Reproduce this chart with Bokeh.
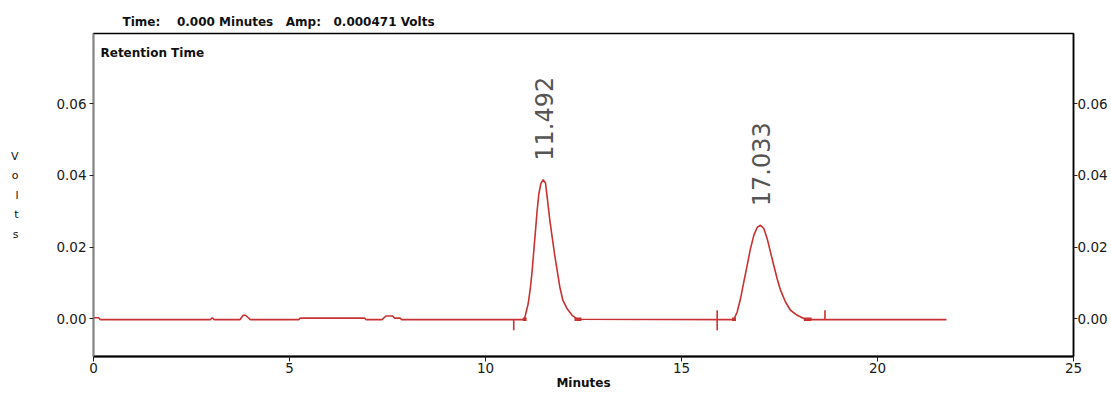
import numpy as np
from bokeh.plotting import figure
from bokeh.models import Range1d, LinearAxis, FixedTicker, PrintfTickFormatter, Label, Title
from bokeh.core.properties import value
from bokeh.embed import file_html
from bokeh.resources import INLINE

# ---------------- data ----------------
trace_t = [0.00, 0.13, 0.17, 2.98, 3.03, 3.08, 3.74, 3.82, 3.88, 4.00, 5.24, 5.27, 6.92, 6.95,
           7.36, 7.46, 7.63, 7.68, 7.82, 7.86, 10.99,
           11.089, 11.148, 11.191, 11.233, 11.276, 11.318, 11.361, 11.412, 11.471, 11.531,
           11.582, 11.641, 11.701, 11.760, 11.828, 11.896, 11.973, 12.083, 12.211, 12.338,
           16.335, 16.420, 16.505, 16.590, 16.675, 16.760, 16.845, 16.930, 17.015, 17.100,
           17.185, 17.270, 17.355, 17.440, 17.526, 17.653, 17.781, 17.951, 18.121, 18.334,
           21.76]
trace_v = [0.0003, 0.0003, -0.0002, -0.0002, 0.0003, -0.0002, -0.0002, 0.0010, 0.0010, -0.0002, -0.0002, 0.0002, 0.0002, -0.0002,
           -0.0002, 0.0008, 0.0008, 0.0002, 0.0002, -0.0002, -0.0002,
           0.0042, 0.0089, 0.0135, 0.0191, 0.0247, 0.0303, 0.0349, 0.0377, 0.0388, 0.0379,
           0.0331, 0.0275, 0.0228, 0.0182, 0.0135, 0.0089, 0.0052, 0.0028, 0.0010, -0.0001,
           -0.0002, 0.0019, 0.0056, 0.0103, 0.0149, 0.0196, 0.0233, 0.0255, 0.0261, 0.0252,
           0.0224, 0.0186, 0.0149, 0.0112, 0.0080, 0.0047, 0.0024, 0.0010, 0.0001, -0.0002,
           -0.0002]

peak_rt = [11.492, 17.033]
peak_height = [0.0388, 0.0261]
peak_labels = ["11.492", "17.033"]

event_t = [10.72, 15.91, 18.66]
event_top = [-0.0002, 0.0024, 0.0024]
event_bottom = [-0.0032, -0.0032, -0.0002]

mark_t0 = [10.95, 12.27, 16.29, 18.12]
mark_t1 = [11.05, 12.45, 16.39, 18.32]
mark_v = [-0.0001, -0.0001, -0.0001, -0.0001]

x_ticks = [0, 5, 10, 15, 20, 25]
y_ticks = [0.00, 0.02, 0.04, 0.06]

NB = "\u00a0"
header_text = "Time:" + NB * 4 + "0.000 Minutes" + NB * 3 + "Amp:" + NB * 3 + "0.000471 Volts"

# ---------------- layout ----------------
X0, X1 = 0, 25
Y0, Y1 = -0.0105, 0.0796
W, H = 1111, 394
FL, FR, FT, FB = 93, 1073, 33, 356

RED = "#c83232"

p = figure(width=W, height=H, output_backend="svg", toolbar_location=None,
           x_range=Range1d(X0, X1), y_range=Range1d(Y0, Y1),
           min_border_left=FL, min_border_right=W - FR,
           min_border_top=FT, min_border_bottom=H - FB)
p.background_fill_color = "white"
p.border_fill_color = "white"
p.outline_line_color = "black"
p.outline_line_width = 1.5
p.xgrid.visible = False
p.ygrid.visible = False

def style_axis(ax, line_color, line_width, standoff):
    ax.axis_line_color = line_color
    ax.axis_line_width = line_width
    ax.major_tick_out = 4
    ax.major_tick_in = 0
    ax.major_tick_line_color = "#222222"
    ax.minor_tick_line_color = None
    ax.major_label_standoff = standoff
    ax.major_label_text_font = "DejaVu Sans"
    ax.major_label_text_font_size = "13.5px"
    ax.major_label_text_color = "#1a1a1a"

xa = p.xaxis[0]
xa.ticker = FixedTicker(ticks=x_ticks)
xa.formatter = PrintfTickFormatter(format="%d")
style_axis(xa, "black", 2, 1)
xa.major_tick_out = 5
xa.axis_label = "Minutes"
xa.axis_label_standoff = 0
xa.axis_label_text_font = "DejaVu Sans"
xa.axis_label_text_font_size = "12px"
xa.axis_label_text_font_style = "bold"
xa.axis_label_text_color = "#111111"

ya = p.yaxis[0]
ya.ticker = FixedTicker(ticks=y_ticks)
ya.formatter = PrintfTickFormatter(format="%.2f")
style_axis(ya, "#888888", 1.5, 3)
ya.axis_label = "\n".join("Volts")
ya.axis_label_orientation = "horizontal"
ya.axis_label_standoff = 35
ya.axis_label_text_font = "DejaVu Sans"
ya.axis_label_text_font_size = "11px"
ya.axis_label_text_font_style = "normal"
ya.axis_label_text_line_height = 1.5
ya.axis_label_text_color = "#111111"

ra = LinearAxis(ticker=FixedTicker(ticks=y_ticks), formatter=PrintfTickFormatter(format="%.2f"))
style_axis(ra, "black", 1.5, 0)
p.add_layout(ra, "right")

p.add_layout(Title(text=header_text, align="left", offset=122 - FL, standoff=9,
                   text_font="DejaVu Sans", text_font_size="12px", text_font_style="bold",
                   text_color="#111111"), "above")

# trace
p.line(trace_t, trace_v, line_color=RED, line_width=1.6)
p.segment(x0=event_t, y0=event_top, x1=event_t, y1=event_bottom, line_color=RED, line_width=1.6)
p.segment(x0=mark_t0, y0=mark_v, x1=mark_t1, y1=mark_v, line_color=RED, line_width=3.5)

# peak labels
p.text(x=peak_rt, y=peak_height, text=peak_labels, angle=np.pi / 2, y_offset=-19,
       text_align="left", text_baseline="middle", text_color="#555555",
       text_font=value("DejaVu Sans"), text_font_size="24px")

p.add_layout(Label(x=100, y=52, x_units="canvas", y_units="canvas", text="Retention Time",
                   text_align="left", text_baseline="middle",
                   text_font="DejaVu Sans", text_font_size="12px", text_font_style="bold",
                   text_color="#111111"))

open("out.html", "w").write(file_html(p, INLINE))
